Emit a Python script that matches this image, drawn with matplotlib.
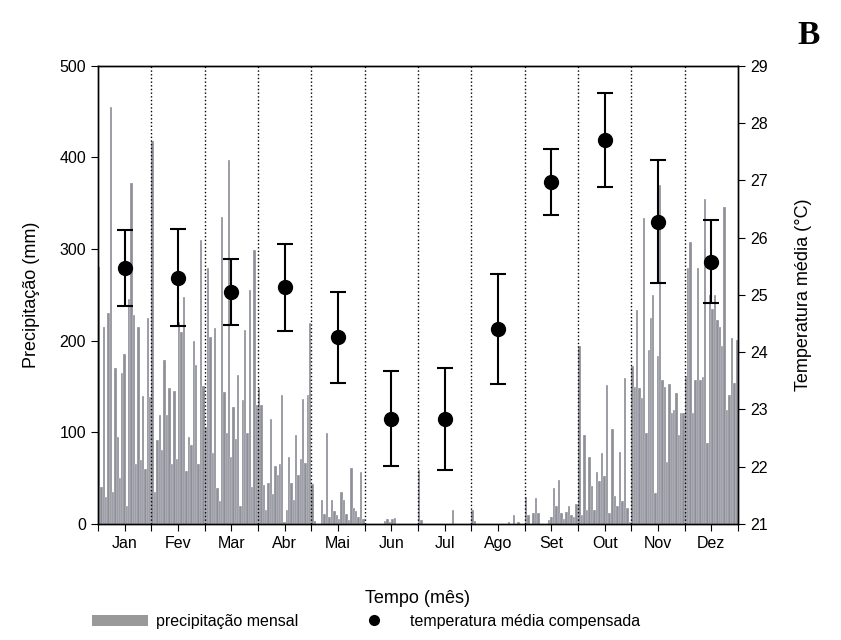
import matplotlib.pyplot as plt
import numpy as np
from matplotlib.patches import Patch
from matplotlib.lines import Line2D

plt.rcParams['font.family'] = ['Liberation Sans', 'DejaVu Sans']

months = ['Jan', 'Fev', 'Mar', 'Abr', 'Mai', 'Jun', 'Jul', 'Ago', 'Set', 'Out', 'Nov', 'Dez']

# precipitation (mm), one list per month, read left to right within the month
prec_jan = [280, 40, 215, 30, 230, 455, 35, 170, 95, 50, 165, 185, 20, 245, 372, 228, 65, 215, 70, 140, 60, 225, 139]
prec_fev = [418, 35, 92, 119, 81, 179, 119, 148, 66, 145, 71, 220, 210, 248, 58, 95, 86, 200, 173, 66, 310, 151]
prec_mar = [106, 279, 204, 77, 214, 39, 25, 335, 144, 99, 397, 73, 128, 93, 163, 20, 135, 212, 99, 255, 40, 299, 130]
prec_abr = [148, 130, 43, 15, 45, 115, 33, 63, 53, 65, 141, 2, 15, 73, 45, 26, 97, 53, 71, 136, 67, 141, 219]
prec_mai = [44, 3, 0, 0, 26, 11, 99, 8, 26, 14, 10, 6, 35, 26, 11, 4, 61, 17, 14, 8, 57, 6]
prec_jun = [0, 0, 0, 0, 0, 0, 0, 0, 3, 5, 2, 6, 7, 0, 0, 0, 0, 0, 0, 0, 0, 0]
prec_jul = [59, 4, 0, 0, 0, 0, 0, 0, 0, 0, 0, 0, 0, 0, 15, 0, 0, 0, 0, 0, 0, 0]
prec_ago = [15, 3, 0, 0, 0, 0, 0, 0, 0, 0, 0, 0, 0, 0, 0, 2, 0, 10, 0, 2, 0, 0]
prec_set = [30, 10, 0, 12, 28, 12, 0, 0, 0, 4, 8, 39, 20, 48, 12, 5, 13, 20, 10, 8, 22]
prec_out = [194, 10, 97, 15, 73, 41, 15, 57, 47, 77, 52, 152, 12, 104, 31, 20, 79, 25, 159, 18, 2]
prec_nov = [172, 150, 233, 148, 137, 334, 99, 190, 225, 250, 34, 183, 370, 157, 150, 68, 153, 121, 124, 143, 97, 121, 121]
prec_dez = [161, 279, 308, 121, 157, 279, 157, 160, 355, 88, 250, 235, 250, 223, 215, 194, 346, 124, 141, 203, 154, 201]
prec = [prec_jan, prec_fev, prec_mar, prec_abr, prec_mai, prec_jun,
        prec_jul, prec_ago, prec_set, prec_out, prec_nov, prec_dez]

# mean compensated temperature (°C) and error
temp_mean = [25.47, 25.30, 25.05, 25.13, 24.26, 22.84, 22.83, 24.41, 26.97, 27.71, 26.28, 25.58]
temp_err = [0.67, 0.85, 0.57, 0.76, 0.79, 0.83, 0.89, 0.96, 0.57, 0.82, 1.08, 0.73]

fig = plt.figure(figsize=(8.41, 6.4), dpi=100)
ax = fig.add_axes([0.1165, 0.18125, 0.761, 0.716])

bar_color = '#8f8f99'
for m, vals in enumerate(prec):
    n = len(vals)
    x = m + (np.arange(n) + 0.5) / n
    ax.bar(x, vals, width=1.0 / n, color=bar_color, edgecolor='white', linewidth=0.2)

for b in range(1, 12):
    ax.axvline(b, color='black', linestyle=':', linewidth=1.0)

ax.set_xlim(0, 12)
ax.set_ylim(0, 500)
ax.set_yticks(range(0, 501, 100))
ax.set_xticks(np.arange(0, 12.01, 0.5))
ax.set_xticklabels([months[int(t)] if t % 1 else '' for t in np.arange(0, 12.01, 0.5)])
ax.tick_params(axis='both', direction='out', length=5, labelsize=11.5)
ax.set_ylabel('Precipitação (mm)', fontsize=13, labelpad=14)
ax.set_xlabel('Tempo (mês)', fontsize=13, labelpad=28)

ax2 = ax.twinx()
ax2.set_ylim(21, 29)
ax2.set_yticks(range(21, 30))
ax2.tick_params(axis='y', direction='out', length=5, labelsize=11.5)
ax2.errorbar(np.arange(12) + 0.5, temp_mean, yerr=temp_err, fmt='o', color='black',
             markersize=10, capsize=6, elinewidth=1.5, capthick=1.5)
ax2.set_ylabel('Temperatura média (°C)', fontsize=13, labelpad=20)

for a in (ax, ax2):
    for s in a.spines.values():
        s.set_linewidth(1.0)

handles = [Patch(facecolor='#999999', edgecolor='none'),
           Line2D([], [], marker='o', color='black', linestyle='none', markersize=7)]
fig.legend(handles, ['precipitação mensal', 'temperatura média compensada'],
           loc='lower center', bbox_to_anchor=(0.435, -0.005), ncol=2, frameon=False,
           fontsize=11.5, handlelength=3.5, handletextpad=0.5, columnspacing=3)

fig.text(0.975, 0.945, 'B', fontsize=24, fontweight='bold', family='Liberation Serif',
         ha='right', va='center')

fig.savefig('out.png', dpi=100)
